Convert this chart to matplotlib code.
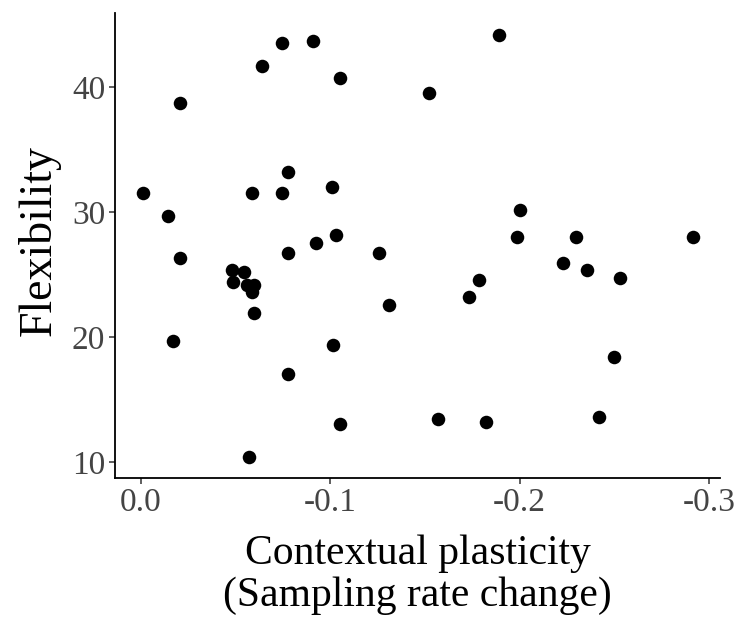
import matplotlib
matplotlib.use("Agg")
import matplotlib.pyplot as plt

plt.rcParams["font.family"] = ["Liberation Serif", "DejaVu Serif"]
plt.rcParams["axes.unicode_minus"] = False

# contextual plasticity (sampling rate change) vs flexibility
plasticity = [-0.0745, -0.0909, -0.0640, -0.1050, -0.0208, -0.0780, -0.0012, -0.0590,
              -0.0745, -0.1010, -0.0147, -0.1030, -0.0926, -0.0780, -0.1260, -0.0208,
              -0.0480, -0.0546, -0.0490, -0.0560, -0.0600, -0.0587, -0.1310, -0.0600,
              -0.0173, -0.1017, -0.0780, -0.1050, -0.0574, -0.1893, -0.1524, -0.2003,
              -0.1985, -0.2297, -0.2914, -0.2231, -0.2358, -0.2530, -0.1785, -0.1733,
              -0.2499, -0.1572, -0.1823, -0.2421]
flexibility = [43.5, 43.7, 41.7, 40.7, 38.7, 33.2, 31.5, 31.5,
               31.5, 32.0, 29.7, 28.2, 27.5, 26.7, 26.7, 26.3,
               25.4, 25.2, 24.4, 24.2, 24.2, 23.6, 22.6, 21.9,
               19.7, 19.4, 17.0, 13.0, 10.4, 44.2, 39.5, 30.2,
               28.0, 28.0, 28.0, 25.9, 25.4, 24.7, 24.6, 23.2,
               18.4, 13.4, 13.2, 13.6]

xticks = [0.0, -0.1, -0.2, -0.3]
xticklabels = ["0.0", "-0.1", "-0.2", "-0.3"]
yticks = [10, 20, 30, 40]

fig = plt.figure(figsize=(7.34, 6.21), dpi=100)
ax = fig.add_axes([0.1567, 0.2303, 0.981 - 0.1567, 0.979 - 0.2303])

ax.scatter(plasticity, flexibility, s=95, color="black", linewidths=0, zorder=3)

ax.set_xlim(0.0135, -0.3058)
ax.set_ylim(8.72, 45.92)
ax.set_xticks(xticks)
ax.set_xticklabels(xticklabels)
ax.set_yticks(yticks)

for side in ["top", "right"]:
    ax.spines[side].set_visible(False)
for side in ["left", "bottom"]:
    ax.spines[side].set_linewidth(1.3)
    ax.spines[side].set_color("black")

ax.tick_params(axis="both", labelsize=24, labelcolor="#444444", color="#333333",
               length=4, width=1.1, pad=3)

ax.set_xlabel("Contextual plasticity\n(Sampling rate change)", fontsize=30,
              labelpad=12, linespacing=1.12)
ax.set_ylabel("Flexibility", fontsize=33)
ax.yaxis.set_label_coords(-0.09, 0.51)

fig.savefig("out.png", dpi=100)
